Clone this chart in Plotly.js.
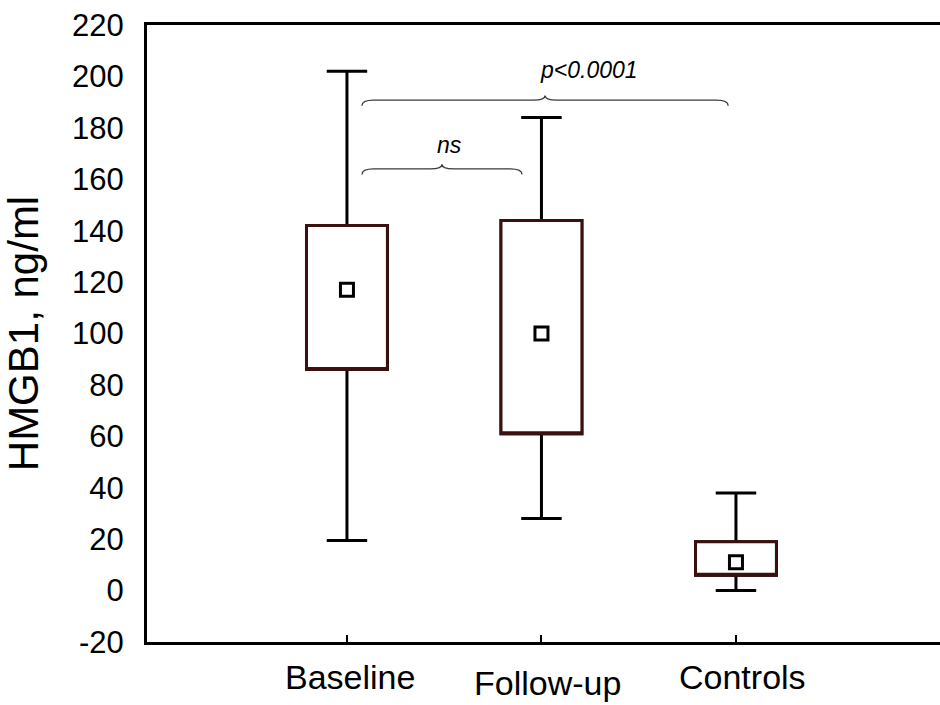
<!DOCTYPE html>
<html>
<head>
<meta charset="utf-8">
<script src="https://cdn.plot.ly/plotly-3.0.1.min.js"></script>
<style>
  html, body { margin: 0; padding: 0; background: #fff; }
  #chart { width: 940px; height: 705px; }
</style>
</head>
<body>
<div id="chart"></div>
<script>
// ---- data ----
const categories = ['Baseline', 'Follow-up', 'Controls'];
const positions = [1, 2, 3];
const lowerWhisker = [19.5, 28, 0];
const q1 = [86, 61, 6];
const q3 = [142, 144, 19];
const upperWhisker = [202, 184, 38];
const means = [117, 100, 11];
const yTicks = [-20, 0, 20, 40, 60, 80, 100, 120, 140, 160, 180, 200, 220];

// comparison brackets (from group, to group, level, label)
const bracketFrom = [1.077, 1.077];
const bracketTo = [1.90, 2.96];
const bracketLevel = [164, 190.8];
const bracketLabelLevel = [173.3, 202.5];
const bracketLabels = ['ns', 'p<0.0001'];

// ---- style ----
const FONT = 'Liberation Sans, Arial, Helvetica, sans-serif';
const BOX_W = 0.416;
const labelShift = [3, 6, 7];
const labelDrop = [-14, -20, -14];
const bracketLabelShift = [0.04, 0.225];

const whiskers = {
  type: 'box',
  x: positions,
  q1: q1,
  median: q1,
  q3: q3,
  lowerfence: lowerWhisker,
  upperfence: upperWhisker,
  width: BOX_W,
  whiskerwidth: 0.5,
  fillcolor: '#ffffff',
  line: { color: '#000000', width: 3 },
  boxpoints: false,
  hoverinfo: 'skip',
  showlegend: false
};

const boxes = {
  type: 'box',
  x: positions,
  q1: q1,
  median: q1,
  q3: q3,
  lowerfence: q1,
  upperfence: q3,
  width: BOX_W,
  whiskerwidth: 0,
  fillcolor: '#ffffff',
  line: { color: '#3a1010', width: 3 },
  boxpoints: false,
  hoverinfo: 'skip',
  showlegend: false
};

const meanMarks = {
  type: 'scatter',
  mode: 'markers',
  x: positions,
  y: means,
  marker: { symbol: 'square-open', size: 13, color: '#000000', line: { color: '#000000', width: 3 } },
  hoverinfo: 'skip',
  showlegend: false
};

const shapes = bracketFrom.map((xa, i) => {
  const xb = bracketTo[i];
  const xm = (xa + xb) / 2;
  const y = bracketLevel[i];
  const d1 = 2.2, d2 = 1.8, e = 0.06;
  const path = `M ${xa},${y - d1} Q ${xa},${y} ${xa + e},${y} L ${xm - e},${y} ` +
               `Q ${xm},${y} ${xm},${y + d2} Q ${xm},${y} ${xm + e},${y} ` +
               `L ${xb - e},${y} Q ${xb},${y} ${xb},${y - d1}`;
  return { type: 'path', xref: 'x', yref: 'y', path: path, line: { color: '#3a3a3a', width: 1.3 } };
});

const annotations = [];
categories.forEach((c, i) => {
  annotations.push({
    x: positions[i], xref: 'x', y: 0, yref: 'paper',
    xanchor: 'center', yanchor: 'top',
    xshift: labelShift[i], yshift: labelDrop[i],
    text: c, showarrow: false,
    font: { family: FONT, size: 34, color: '#000000' }
  });
});
bracketLabels.forEach((t, i) => {
  annotations.push({
    x: (bracketFrom[i] + bracketTo[i]) / 2 + bracketLabelShift[i], xref: 'x',
    y: bracketLabelLevel[i], yref: 'y',
    xanchor: 'center', yanchor: 'middle',
    text: '<i>' + t + '</i>', showarrow: false,
    font: { family: FONT, size: 23, color: '#000000' }
  });
});

const layout = {
  width: 940,
  height: 705,
  margin: { l: 147, r: 0, t: 25, b: 63, pad: 0 },
  paper_bgcolor: '#ffffff',
  plot_bgcolor: '#ffffff',
  showlegend: false,
  boxmode: 'overlay',
  font: { family: FONT, color: '#000000' },
  xaxis: {
    range: [-0.028, 4.049],
    tickvals: positions,
    showticklabels: false,
    ticks: 'inside',
    ticklen: 7,
    tickwidth: 2,
    tickcolor: '#000000',
    showline: true,
    linewidth: 3,
    linecolor: '#000000',
    mirror: true,
    showgrid: false,
    zeroline: false,
    fixedrange: true
  },
  yaxis: {
    range: [-20, 220],
    tickvals: yTicks,
    ticktext: yTicks.map(String),
    ticks: '',
    ticklabelstandoff: 14,
    tickfont: { family: FONT, size: 31, color: '#000000' },
    showline: true,
    linewidth: 3,
    linecolor: '#000000',
    mirror: false,
    showgrid: false,
    zeroline: false,
    fixedrange: true,
    title: { text: 'HMGB1, ng/ml', standoff: 28, font: { family: FONT, size: 42, color: '#000000' } }
  },
  shapes: shapes,
  annotations: annotations
};

Plotly.newPlot('chart', [whiskers, boxes, meanMarks], layout, { displayModeBar: false, staticPlot: true });
</script>
</body>
</html>
